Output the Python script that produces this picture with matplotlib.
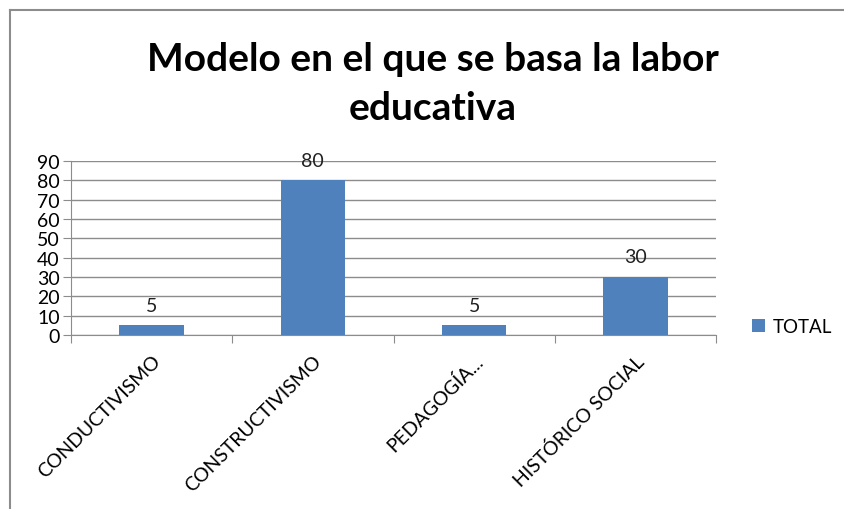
import numpy as np
import matplotlib.pyplot as plt
from matplotlib.lines import Line2D

categories = ['CONDUCTIVISMO', 'CONSTRUCTIVISMO', 'PEDAGOGÍA...', 'HISTÓRICO SOCIAL']
values = [5, 80, 5, 30]
yticks = [0, 10, 20, 30, 40, 50, 60, 70, 80, 90]

plt.rcParams['font.family'] = ['Lato', 'DejaVu Sans']
W, H = 845, 510
fig = plt.figure(figsize=(W / 100, H / 100), dpi=100)

# outer chart border (only left/top visible in reference)
bx, by = 10 / W, 1 - 11 / H
fig.add_artist(Line2D([bx, bx], [0, by], transform=fig.transFigure, color='#8c8c8c', lw=1.5))
fig.add_artist(Line2D([bx, 1], [by, by], transform=fig.transFigure, color='#8c8c8c', lw=1.5))

ax = fig.add_axes([71 / W, 1 - 336 / H, (716 - 71) / W, (336 - 162) / H])
x = np.arange(len(categories))
bars = ax.bar(x, values, width=0.4, color='#4f81bd', zorder=3, label='TOTAL')

for b, v in zip(bars, values):
    ax.text(b.get_x() + b.get_width() / 2, v + 6, str(v), ha='center', va='bottom',
            fontsize=14, color='#222222')

ax.set_xlim(-0.5, len(categories) - 0.5)
ax.set_ylim(0, 90)
ax.set_yticks(yticks)
ax.set_yticklabels([str(t) for t in yticks], fontsize=14)
ax.yaxis.grid(True, color='#8c8c8c', linewidth=1, zorder=0)

ax.set_xticks(np.arange(len(categories) + 1) - 0.5)
ax.set_xticklabels([])
ax.set_xticks(x, minor=True)
ax.set_xticklabels(categories, minor=True, rotation=45, ha='right', rotation_mode='anchor',
                   fontsize=14)
ax.tick_params(axis='x', which='minor', length=0, pad=12)
ax.tick_params(axis='x', which='major', length=6, color='#8c8c8c')
ax.tick_params(axis='y', length=6, color='#8c8c8c', pad=2)

for s in ['top', 'right']:
    ax.spines[s].set_visible(False)
for s in ['left', 'bottom']:
    ax.spines[s].set_color('#8c8c8c')

ax.legend(loc='center left', bbox_to_anchor=(1.03, 0.05), frameon=False, fontsize=13.5,
          handlelength=0.7, handleheight=0.7, handletextpad=0.4)

fig.text(0.512, 1 - 84 / H, 'Modelo en el que se basa la labor\neducativa', ha='center', va='center',
         fontsize=28, fontweight='bold', linespacing=1.45)

fig.savefig('out.png', dpi=100)
